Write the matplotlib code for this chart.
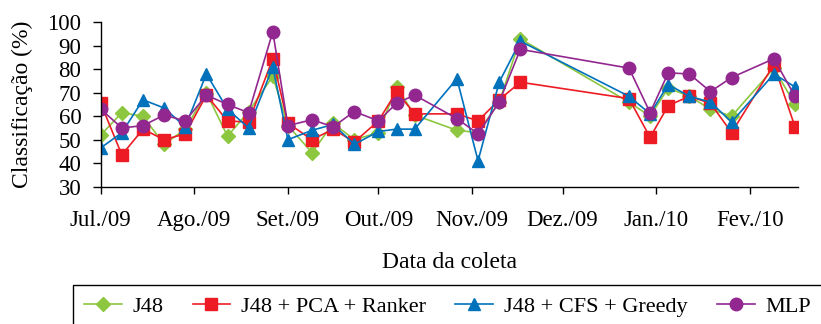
import numpy as np
import matplotlib
matplotlib.use("Agg")
import matplotlib.pyplot as plt
from matplotlib.patches import Rectangle

plt.rcParams["font.family"] = ["Liberation Serif", "DejaVu Serif"]
plt.rcParams["font.size"] = 16

# collection dates (approx. weekly)
dates = [
    "2009-07-01", "2009-07-08", "2009-07-15", "2009-07-22", "2009-07-29",
    "2009-08-05", "2009-08-12", "2009-08-19", "2009-08-27", "2009-09-01",
    "2009-09-09", "2009-09-16", "2009-09-23", "2009-10-01", "2009-10-07",
    "2009-10-13", "2009-10-27", "2009-11-03", "2009-11-10", "2009-11-17",
    "2009-12-23", "2009-12-30", "2010-01-05", "2010-01-12", "2010-01-19",
    "2010-01-26", "2010-02-09", "2010-02-16",
]

j48 = [52, 61.5, 60, 48, 54.5, 70, 51.5, 62, 77, 56, 44.5, 57, 50, 53, 72.5,
       60.5, 54, 53, 66, 93, 66, 60, 72, 68.5, 63, 60, 80.5, 65]
j48_pca = [65.5, 43.5, 54.5, 50, 52.5, 69, 58, 57.5, 84.5, 57, 50, 54.5, 49, 58,
           70.5, 61, 61, 58, 67, 74.5, 67.5, 51, 64.5, 68.5, 65.5, 53, 82, 55.5]
j48_cfs = [46.5, 53, 67, 63.5, 55.5, 78, 63, 55, 81, 50, 54, 56.5, 48, 53.5,
           54.5, 54.5, 76, 41, 74.5, 92, 68.5, 61, 73.5, 68.5, 66, 57.5, 78, 72.5]
mlp = [63, 55, 56, 60.5, 58, 69, 65, 61.5, 96, 56, 58.5, 55.5, 62, 58, 65.5,
       69, 59, 52.5, 66, 88.5, 80.5, 61.5, 78.5, 78, 70.5, 76.5, 84.5, 68.5]

labels = ["J48", "J48 + PCA + Ranker", "J48 + CFS + Greedy", "MLP"]
month_ticks = ["2009-07-01", "2009-08-01", "2009-09-01", "2009-10-01",
               "2009-11-01", "2009-12-01", "2010-01-01", "2010-02-01"]
month_labels = ["Jul./09", "Ago./09", "Set./09", "Out./09", "Nov./09",
                "Dez./09", "Jan./10", "Fev./10"]

x = np.array(dates, dtype="datetime64[D]")

fig = plt.figure(figsize=(8.21, 3.24), dpi=100)
ax = fig.add_axes([0.1227, 0.424, 0.972 - 0.1227, 0.931 - 0.424])

ax.plot(x, j48, color="#8DC63F", marker="D", markersize=7, lw=1.2, label=labels[0])
ax.plot(x, j48_pca, color="#ED1C24", marker="s", markersize=8, lw=1.2, label=labels[1])
ax.plot(x, j48_cfs, color="#0072BC", marker="^", markersize=9, lw=1.2, label=labels[2])
ax.plot(x, mlp, color="#92278F", marker="o", markersize=9, lw=1.2, label=labels[3])

ax.set_ylim(30, 100)
ax.set_yticks(range(30, 101, 10))
ax.set_xlim(np.datetime64("2009-07-01"), np.datetime64("2010-02-17"))
ax.set_xticks(np.array(month_ticks, dtype="datetime64[D]"))
ax.set_xticklabels(month_labels)

for s in ["top", "right"]:
    ax.spines[s].set_visible(False)
ax.spines["left"].set_linewidth(1.0)
ax.spines["bottom"].set_linewidth(1.0)
ax.tick_params(axis="y", direction="out", length=6, width=1, pad=8, labelsize=16.5)
ax.tick_params(axis="x", direction="out", length=5, width=1, pad=12, labelsize=16.5)

ax.set_ylabel("Classificação (%)", labelpad=10, fontsize=17)
ax.set_xlabel("Data da coleta", labelpad=15, fontsize=17)

# legend box runs past the right and bottom edges of the picture
x0 = 72.7 / 821
y_top = 1 - 285 / 324
fig.patches.append(Rectangle((x0, -0.2), 1.2, y_top + 0.2, transform=fig.transFigure,
                             fill=False, edgecolor="black", lw=1.0))
fig.legend(loc="upper left", bbox_to_anchor=(x0, y_top),
           ncol=4, frameon=False, handlelength=1.7, handletextpad=0.5,
           columnspacing=1.3, borderpad=0.5, borderaxespad=0, fontsize=16)

fig.savefig("out.png", dpi=100)
